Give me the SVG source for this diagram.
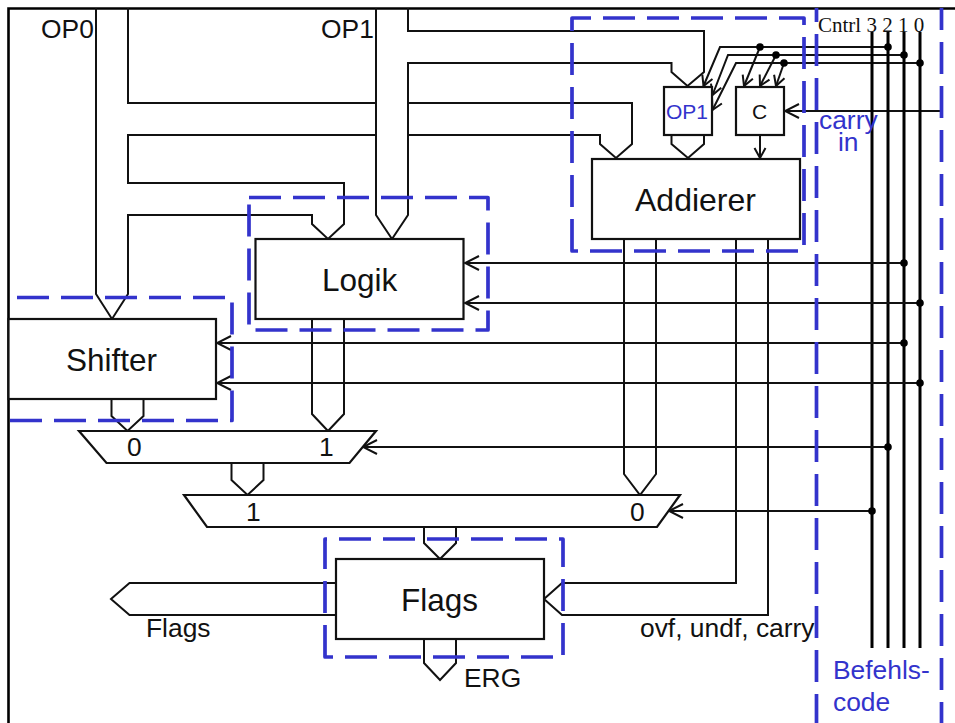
<svg xmlns="http://www.w3.org/2000/svg" width="955" height="723" viewBox="0 0 955 723">
<style>
.w{fill:none;stroke:#111;stroke-width:2;stroke-linejoin:miter}
.c{fill:none;stroke:#000;stroke-width:3}
.b{fill:#fff;stroke:#111;stroke-width:2.2}
.d{fill:none;stroke:#3333cc;stroke-width:3.7;stroke-dasharray:32 12;stroke-linejoin:round}
.t{font-family:"Liberation Sans",Arial,sans-serif;font-size:26.400px;fill:#111}
.l{font-size:31.500px}
.u{fill:#3333cc}
.a{marker-end:url(#big)}
.e{marker-end:url(#small)}
</style>
<defs>
<marker id="big" markerUnits="userSpaceOnUse" viewBox="-16 -9 18 18" refX="0" refY="0" markerWidth="18" markerHeight="18" orient="auto"><path d="M-14 -7L0 0L-14 7" fill="none" stroke="#111" stroke-width="2"/></marker>
<marker id="small" markerUnits="userSpaceOnUse" viewBox="-16 -9 18 18" refX="0" refY="0" markerWidth="18" markerHeight="18" orient="auto"><path d="M-10 -5.500L0 0L-10 5.500" fill="none" stroke="#111" stroke-width="2"/></marker>
</defs>
<rect width="955" height="723" fill="#fff"/>
<path d="M8.500 723V8.500H955" fill="none" stroke="#000" stroke-width="2.600"/>
<g id="connectors">
<path class="w" d="M96 8V294L112 319L128 294V215H312V224L328 239L344 224V183H128V135H376"/>
<path class="w" d="M128 8V103H376"/>
<path class="w" d="M408 103H632V144L616 158L600 144V135H408"/>
<path class="w" d="M376 8V215L392 239L408 215V63H671.500V72L687.500 86L704 72V31H408V8"/>
<path class="w" d="M671.500 135V144L688 158L704 144V135"/>
<path class="w e" d="M760 135V158"/>
<path class="w e" d="M888 47H720L703.500 86"/>
<path class="w e" d="M904 55H728L712.500 95"/>
<path class="w e" d="M920 63H736L712.500 110"/>
<path class="w e" d="M760 47L744 86"/>
<path class="w e" d="M776 55L760 86"/>
<path class="w e" d="M784 63L776 86"/>
<path class="w a" d="M941 111H785"/>
<path class="c" d="M872 32V648M888 32V648M904 32V648M920 32V648"/>
<path class="w a" d="M904 263H465"/>
<path class="w a" d="M920 303H465"/>
<path class="w a" d="M904 343H217"/>
<path class="w a" d="M920 383H217"/>
<path class="w a" d="M888 447H363"/>
<path class="w a" d="M872 511H669"/>
<g fill="#000"><circle cx="760" cy="47" r="3.800"/><circle cx="776" cy="55" r="3.800"/><circle cx="784" cy="63" r="3.800"/><circle cx="888" cy="47" r="3.800"/><circle cx="904" cy="55" r="3.800"/><circle cx="920" cy="63" r="3.800"/><circle cx="904" cy="263" r="3.800"/><circle cx="920" cy="303" r="3.800"/><circle cx="904" cy="343" r="3.800"/><circle cx="920" cy="383" r="3.800"/><circle cx="888" cy="447" r="3.800"/><circle cx="872" cy="511" r="3.800"/></g>
<path class="w" d="M111.500 399V416L127.500 431L143.500 416V399"/>
<path class="w" d="M312 319V414L328 431L344 414V319"/>
<path class="w" d="M231.500 463V480L247.500 495L263.500 480V463"/>
<path class="w" d="M624 239V474L640 495L656 474V239"/>
<path class="w" d="M424 527V543L440 559L456 543V527"/>
<path class="w" d="M424 639V663L440 680L456 663V639"/>
<path class="w" d="M336 583H129.500L111 599L129.500 615H336"/>
<path class="w" d="M736 239V583H562L544 599L562 615H768V239"/>
<path class="d" d="M816.500 8V723" stroke-dashoffset="18"/>
<path class="d" d="M941.500 8V723" stroke-dashoffset="10"/>
</g>
<g id="addierer">
<rect class="b" x="592" y="159" width="208" height="80"/>
<text class="t" x="635" y="211" style="font-size:32px">Addierer</text>
<path class="d" d="M572 251V18H804V251Z"/>
</g>
<g id="op1-register">
<rect class="b" x="664" y="87" width="48" height="48"/>
<text class="t u" x="666" y="118.500" style="font-size:21px">OP1</text>
</g>
<g id="carry-register">
<rect class="b" x="736" y="87" width="48" height="48"/>
<text class="t" x="752" y="118.500" style="font-size:21px">C</text>
</g>
<g id="logik">
<rect class="b" x="255.500" y="239" width="208" height="80"/>
<text class="t l" x="322" y="291">Logik</text>
<path class="d" d="M249 197.500H488V330H249Z"/>
</g>
<g id="shifter">
<rect class="b" x="8.500" y="319" width="207.500" height="80"/>
<text class="t l" x="66" y="371">Shifter</text>
<path class="d" d="M17 297.500H232V420.500H10"/>
</g>
<g id="mux-0">
<path class="b" d="M79 431H376L349.500 463H106.500Z"/>
<text class="t" x="127" y="456">0</text>
<text class="t" x="319" y="456">1</text>
</g>
<g id="mux-1">
<path class="b" d="M184 495H680L657 527H207Z"/>
<text class="t" x="246" y="521">1</text>
<text class="t" x="630" y="521">0</text>
</g>
<g id="flags">
<rect class="b" x="336" y="559" width="208" height="80"/>
<text class="t l" x="401" y="611">Flags</text>
<path class="d" d="M325 657V539H563V657Z"/>
</g>
<g id="labels">
<text class="t" x="41" y="38">OP0</text>
<text class="t" x="321" y="38">OP1</text>
<text class="t" x="146" y="637">Flags</text>
<text class="t" x="464" y="687">ERG</text>
<text class="t" x="640" y="637">ovf, undf, carry</text>
<text class="t u" x="819" y="129">carry</text>
<text class="t u" x="838" y="151">in</text>
<text class="t u" x="833" y="679">Befehls-</text>
<text class="t u" x="833" y="711">code</text>
<text x="818" y="32" style="font-family:'Liberation Serif','Times New Roman',serif;font-size:21px;fill:#111">Cntrl 3 2 1 0</text>
</g>
</svg>
